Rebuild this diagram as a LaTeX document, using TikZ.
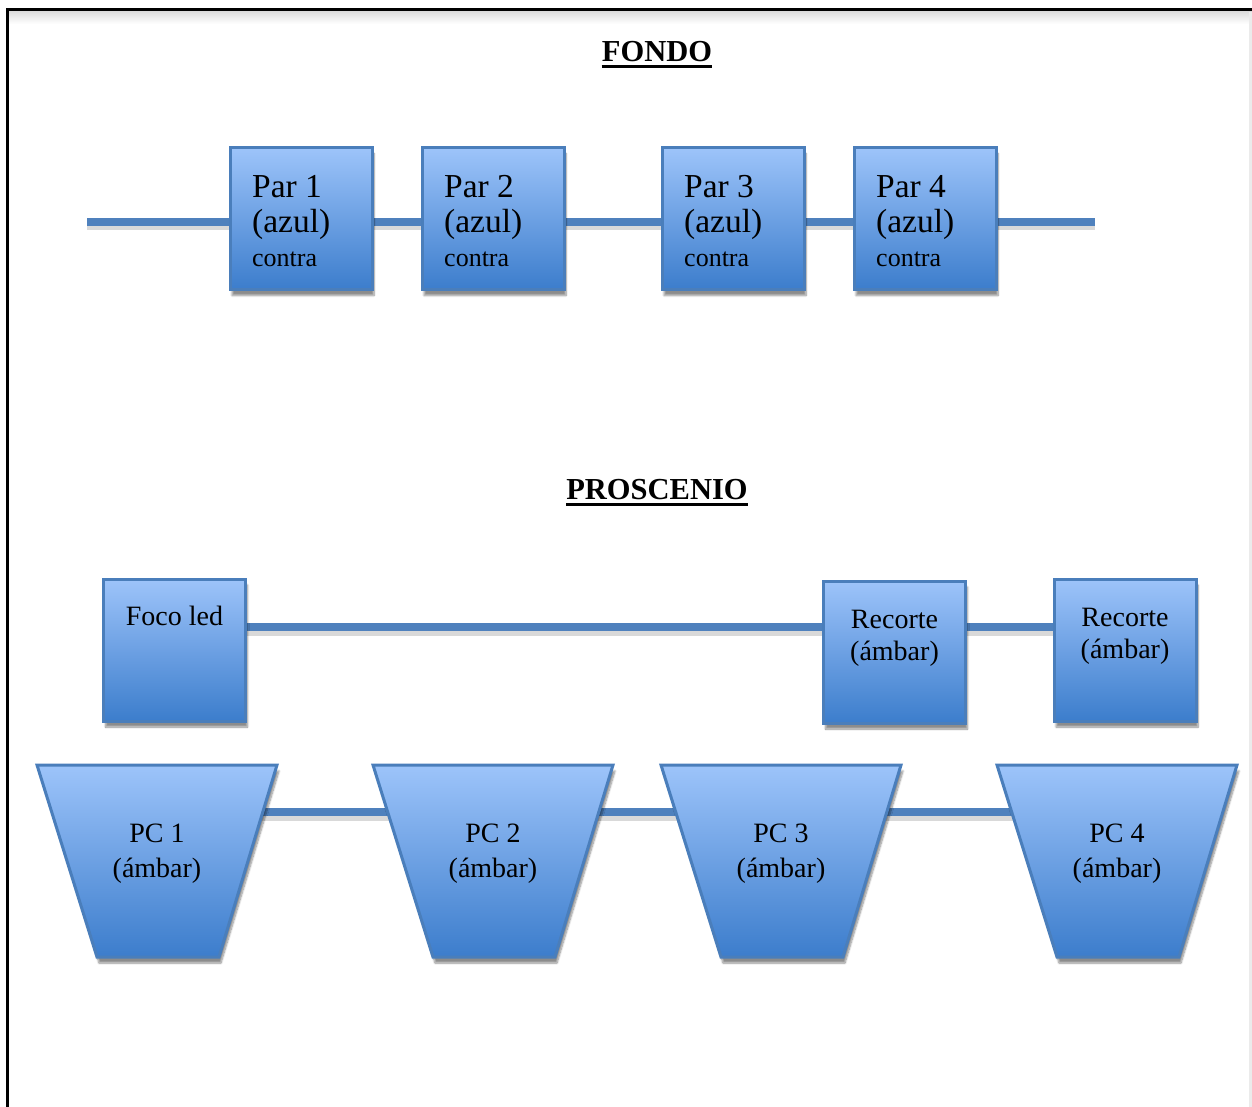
\documentclass[tikz,border=0pt]{standalone}
\usepackage{fontspec}
\setmainfont{Liberation Serif}
\usetikzlibrary{shadows.blur,backgrounds}
\definecolor{lightb}{RGB}{157,196,250}
\definecolor{darkb}{RGB}{60,125,204}
\definecolor{edgeb}{RGB}{74,126,187}
\definecolor{linkb}{RGB}{79,129,189}
\tikzset{
  lamp/.style={draw=edgeb, line width=3pt, top color=lightb, bottom color=darkb,
    blur shadow={shadow xshift=2pt, shadow yshift=-6pt, shadow blur steps=8, shadow opacity=45}},
  boxlamp/.style={lamp, rectangle, minimum width=142pt, minimum height=142pt, inner sep=0pt, outer sep=0pt},
  bar/.style={draw=linkb, line width=8pt},
  barshade/.style={draw=black, opacity=0.15, line width=7pt},
  lblw/.style={inner sep=0pt, anchor=base west},
  lblc/.style={inner sep=0pt, anchor=base},
  bigtxt/.style={font=\fontsize{33.5}{35}\selectfont},
  smalltxt/.style={font=\fontsize{26}{28}\selectfont},
  midtxt/.style={font=\fontsize{28}{30}\selectfont},
  title/.style={inner sep=0pt, anchor=base, font=\fontsize{30.5}{32}\selectfont\bfseries},
}
\begin{document}
\begin{tikzpicture}[x=1pt, y=-1pt]
\useasboundingbox (0,0) rectangle (1252,1107);
% frame
\shade[top color=black!14, bottom color=white] (9,11) rectangle (1252,24);
\draw[black!8, line width=3pt] (1250,12) -- (1250,1107);
\draw[line width=3pt] (7.5,1107) -- (7.5,9.5) -- (1252,9.5);

% titles
\node[title] (fondo) at (657,62) {FONDO};
\draw[line width=3pt] ([yshift=-5pt]fondo.base west) -- ([yshift=-5pt]fondo.base east);
\node[title] (prosc) at (657,499) {PROSCENIO};
\draw[line width=3pt] ([yshift=-5pt]prosc.base west) -- ([yshift=-5pt]prosc.base east);

% FONDO row
\coordinate (fstart) at (87,222);
\coordinate (fend) at (1095,222);
\foreach \i/\x in {1/229,2/421,3/661,4/853}{
  \node[boxlamp] (par\i) at (\x+72,218.5) {};
  \node[lblw,bigtxt] (par\i a) at (\x+23,198) {Par \i};
  \node[lblw,bigtxt] (par\i b) at (\x+23,233) {(azul)};
  \node[lblw,smalltxt] (par\i c) at (\x+23,266) {contra};
}

% PROSCENIO upper row
\coordinate (ly) at (0,627);
\node[boxlamp] (foco) at (174.5,650) {};
\node[boxlamp] (rec1) at (894.5,652) {};
\node[boxlamp] (rec2) at (1125,650) {};
\node[lblc,midtxt] (focot) at (174.5,625) {Foco led};
\node[lblc,midtxt] (rec1a) at (894.5,628) {Recorte};
\node[lblc,midtxt] (rec1b) at (894.5,660) {(ámbar)};
\node[lblc,midtxt] (rec2a) at (1125,626) {Recorte};
\node[lblc,midtxt] (rec2b) at (1125,658) {(ámbar)};

% PC row
\coordinate (ly2) at (0,812);
\foreach \i/\x in {1/157,2/493,3/781,4/1117}{
  \coordinate (pc\i) at (\x,861);
  \path[lamp] (pc\i) ++(-120,-96) -- ++(240,0) -- ++(-58,192) -- ++(-122,0) -- cycle;
  \node[lblc,midtxt] (pc\i a) at (\x,842) {PC \i};
  \node[lblc,midtxt] (pc\i b) at (\x,877) {(ámbar)};
}

% connectors (behind the lamps)
\begin{scope}[on background layer]
  \draw[barshade] ([yshift=-5pt]fstart) -- ([yshift=-5pt]fend);
  \draw[bar] (fstart) -- (par1.west |- fstart);
  \draw[bar] (par1.east |- fstart) -- (par2.west |- fstart);
  \draw[bar] (par2.east |- fstart) -- (par3.west |- fstart);
  \draw[bar] (par3.east |- fstart) -- (par4.west |- fstart);
  \draw[bar] (par4.east |- fstart) -- (fend);
  \draw[barshade] ([yshift=-5pt]foco.center |- ly) -- ([yshift=-5pt]rec2.center |- ly);
  \draw[bar] (foco.east |- ly) -- (rec1.west |- ly);
  \draw[bar] (rec1.east |- ly) -- (rec2.west |- ly);
  \draw[barshade] ([yshift=-5pt]pc1 |- ly2) -- ([yshift=-5pt]pc4 |- ly2);
  \draw[bar] (pc1 |- ly2) -- (pc2 |- ly2);
  \draw[bar] (pc2 |- ly2) -- (pc3 |- ly2);
  \draw[bar] (pc3 |- ly2) -- (pc4 |- ly2);
\end{scope}
\end{tikzpicture}
\end{document}
